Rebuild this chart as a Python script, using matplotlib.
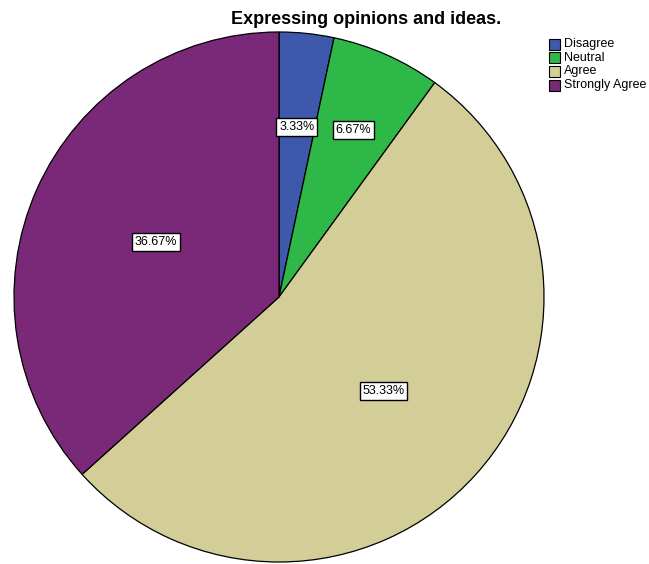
import numpy as np
import matplotlib.pyplot as plt
from matplotlib.patches import Rectangle

plt.rcParams['font.family'] = ['Liberation Sans', 'DejaVu Sans']

# response shares (percent)
categories = ['Disagree', 'Neutral', 'Agree', 'Strongly Agree']
percents = [3.33, 6.67, 53.33, 36.67]
colors = ['#3e58ac', '#2eb848', '#d3ce97', '#7a2878']
title = 'Expressing opinions and ideas.'

W, H = 649, 564
fig = plt.figure(figsize=(W / 100, H / 100), dpi=100)
ax = fig.add_axes([0, 0, 1, 1])

cx, cy, r = 279, H - 297, 265
wedges, _ = ax.pie(percents, colors=colors, startangle=90, counterclock=False,
                   center=(cx, cy), radius=r, frame=True,
                   wedgeprops=dict(edgecolor='black', linewidth=0.9))
ax.set_xlim(0, W)
ax.set_ylim(0, H)
ax.set_aspect('equal')
ax.axis('off')

# value labels inside each slice
label_frac = [0.645, 0.69, 0.53, 0.51]
for w, p, f in zip(wedges, percents, label_frac):
    mid = np.deg2rad((w.theta1 + w.theta2) / 2)
    ax.text(cx + f * r * np.cos(mid), cy + f * r * np.sin(mid), f'{p:.2f}%',
            ha='center', va='center', fontsize=9,
            bbox=dict(boxstyle='square,pad=0.22', fc='white', ec='black', lw=1.0))

ax.text(366, H - 19, title, ha='center', va='center', fontsize=13, fontweight='bold')

# legend
for i, (cat, col) in enumerate(zip(categories, colors)):
    y = H - 44 - i * 13.7
    ax.add_patch(Rectangle((549, y - 5.5), 11, 11, fc=col, ec='black', lw=0.8))
    ax.text(564, y, cat, ha='left', va='center', fontsize=9)

fig.savefig('out.png', dpi=100)
